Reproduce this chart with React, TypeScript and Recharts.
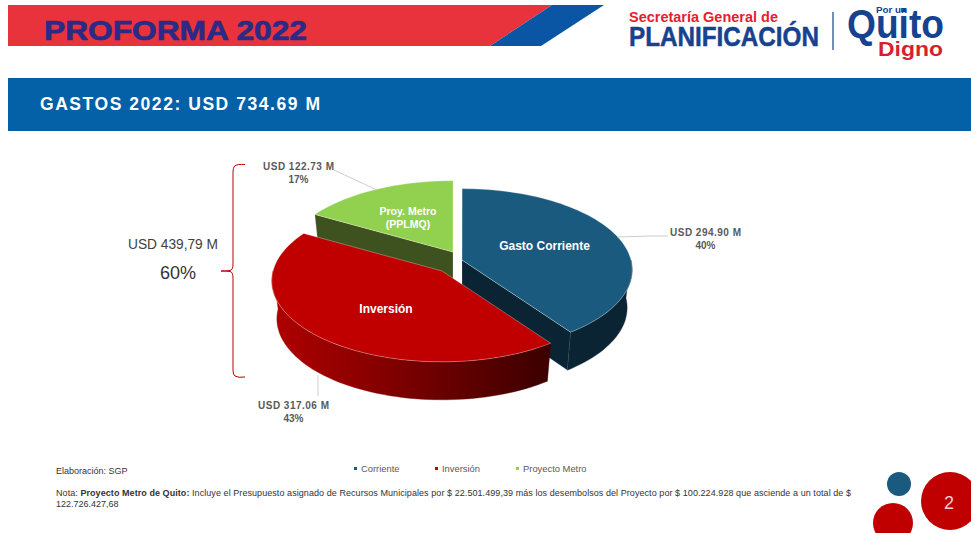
import { PieChart, Pie, Legend } from 'recharts';

// Slide data
const categories = ['Gasto Corriente', 'Inversión', 'Proy. Metro'];
const legendNames = ['Corriente', 'Inversión', 'Proyecto Metro'];
const amounts = [294.9, 317.06, 122.73];
const percents = ['40%', '43%', '17%'];
const colors = ['#1b5a7f', '#c00000', '#92d050'];

// the slices are painted back to front: metro, corriente, inversion
const paintOrder = [2, 0, 1];
const pieData = paintOrder.map(i => ({
  name: categories[i],
  value: amounts[i],
  percent: percents[i],
  fill: colors[i],
}));

const FONT = '"Liberation Sans", Arial, sans-serif';
const RX = 169;
const RY_RATIO = 0.473;
const TILT = 0.12;
const DEPTH = 38;
const BOTTOM_X = 0.97;

const EXPLODE: Record<string, [number, number]> = {
  'Gasto Corriente': [10, -1],
  'Inversión': [-10, 10],
  'Proy. Metro': [1, -9],
};
const WALL: Record<string, string> = {
  'Gasto Corriente': '#0a2433',
  'Inversión': 'url(#redWall)',
  'Proy. Metro': '#3e5220',
};

// theta is clockwise from 12 o'clock, with a little perspective on the disc
function rim(cx: number, cy: number, r: number, theta: number, scaleX = 1, dy = 0) {
  const t = (theta * Math.PI) / 180;
  const k = 1 / (1 + TILT * Math.cos(t));
  return [cx + r * Math.sin(t) * k * scaleX, cy + dy - r * RY_RATIO * Math.cos(t) * k];
}

function arc(cx: number, cy: number, r: number, from: number, to: number, scaleX = 1, dy = 0) {
  const pts: number[][] = [];
  const steps = Math.max(2, Math.ceil(Math.abs(to - from) / 2));
  for (let i = 0; i <= steps; i++) {
    pts.push(rim(cx, cy, r, from + ((to - from) * i) / steps, scaleX, dy));
  }
  return pts;
}

const toPath = (pts: number[][]) =>
  'M' + pts.map(p => `${p[0].toFixed(1)} ${p[1].toFixed(1)}`).join('L') + 'Z';

function Slice3D(props: any) {
  const { cx, cy, outerRadius, startAngle, endAngle, fill, name } = props;
  const label = name ?? props.payload?.name;
  const [ox, oy] = EXPLODE[label];
  const x = cx + ox;
  const y = cy + oy;
  let a = 90 - startAngle;
  let b = 90 - endAngle;
  while (a < 0) {
    a += 360;
    b += 360;
  }
  const wall = WALL[label];
  const apex = [x, y];
  const apexLow = [x, y + DEPTH];

  // outer wall is only seen on the front half of the disc
  const wFrom = Math.max(a, 90);
  const wTo = Math.min(b, 270);
  const face = [apex, ...arc(x, y, outerRadius, a, b)];

  const cutFaces: number[][][] = [];
  if (Math.cos(((b + 90) * Math.PI) / 180) < -0.01) {
    cutFaces.push([apex, rim(x, y, outerRadius, b), rim(x, y, outerRadius, b, BOTTOM_X, DEPTH), apexLow]);
  }
  if (Math.cos(((a - 90) * Math.PI) / 180) < -0.01) {
    cutFaces.push([apex, rim(x, y, outerRadius, a), rim(x, y, outerRadius, a, BOTTOM_X, DEPTH), apexLow]);
  }

  return (
    <g>
      <defs>
        <linearGradient id="redWall" gradientUnits="userSpaceOnUse" x1="271" y1="0" x2="548" y2="0">
          <stop offset="0" stopColor="#b00000" />
          <stop offset="0.35" stopColor="#8a0000" />
          <stop offset="1" stopColor="#3c0000" />
        </linearGradient>
      </defs>
      {cutFaces.map((f, i) => (
        <path key={i} d={toPath(f)} fill={wall} stroke="#ffffff" strokeOpacity={0.3} strokeWidth={0.6} />
      ))}
      {wTo > wFrom && (
        <path
          d={toPath([...arc(x, y, outerRadius, wFrom, wTo), ...arc(x, y, outerRadius, wTo, wFrom, BOTTOM_X, DEPTH)])}
          fill={wall}
          stroke={wall}
          strokeWidth={0.4}
        />
      )}
      <path d={toPath(face)} fill={fill} stroke="#ffffff" strokeOpacity={0.45} strokeWidth={0.7} />
    </g>
  );
}

const LABELS: Record<string, any> = {
  'Gasto Corriente': { x: 544.5, y: 247, size: 12, lines: ['Gasto Corriente'], vx: 705.5, vy: 233, leader: '617,237 651,236 668,236' },
  'Inversión': { x: 386, y: 310, size: 12, lines: ['Inversión'], vx: 293.5, vy: 406, leader: '318,375 318,396' },
  'Proy. Metro': { x: 408, y: 212, size: 10.5, lines: ['Proy. Metro', '(PPLMQ)'], vx: 298.5, vy: 167, leader: '334,170 377,190' },
};

function sliceLabel(props: any) {
  const name = props.name ?? props.payload?.name;
  const value = props.value ?? props.payload?.value;
  const pct = props.payload?.percent;
  const l = LABELS[name];
  return (
    <g key={name} fontFamily={FONT} fontWeight="bold" textAnchor="middle">
      <polyline points={l.leader} fill="none" stroke="#bfbfbf" strokeWidth={0.8} />
      {l.lines.map((t: string, i: number) => (
        <text key={t} x={l.x} y={l.y + i * 13} fontSize={l.size} fill="#ffffff" dominantBaseline="middle">
          {t}
        </text>
      ))}
      <text x={l.vx} y={l.vy} fontSize={10} fill="#595959" dominantBaseline="middle" textLength={71} lengthAdjust="spacing">
        {`USD ${value.toFixed(2)} M`}
      </text>
      <text x={l.vx} y={l.vy + 13} fontSize={10} fill="#595959" dominantBaseline="middle">
        {pct}
      </text>
    </g>
  );
}

function SlideLegend() {
  const left = [354, 435, 516];
  return (
    <div style={{ position: 'relative', height: 14, fontFamily: FONT, fontSize: 9.4, color: '#595959' }}>
      {legendNames.map((n, i) => (
        <span key={n} style={{ position: 'absolute', left: left[i], top: 0, whiteSpace: 'nowrap', lineHeight: '14px' }}>
          <span style={{ display: 'inline-block', width: 3, height: 3, background: colors[i], marginRight: 4, verticalAlign: 2 }} />
          {n}
        </span>
      ))}
    </div>
  );
}

function Background() {
  return (
    <svg width={971} height={533} style={{ position: 'absolute', left: 0, top: 0 }} fontFamily={FONT}>
      <polygon points="8,5 552,5 490,46 8,46" fill="#e8323c" />
      <polygon points="552,5 604,5 541,46 490,46" fill="#0a56a5" />
      <text x={44} y={40} fontSize={28} fontWeight="bold" fill="#2b2a85" stroke="#2b2a85" strokeWidth={0.7} textLength={263} lengthAdjust="spacingAndGlyphs">
        PROFORMA 2022
      </text>

      <text x={629} y={22} fontSize={15} fontWeight="bold" fill="#e5202e" textLength={149} lengthAdjust="spacingAndGlyphs">
        Secretaría General de
      </text>
      <text x={629} y={46} fontSize={27} fontWeight="bold" fill="#17428f" stroke="#17428f" strokeWidth={0.5} textLength={190} lengthAdjust="spacingAndGlyphs">
        PLANIFICACIÓN
      </text>
      <line x1={833} y1={12} x2={833} y2={50} stroke="#17428f" strokeWidth={1.2} />
      <text x={876} y={13} fontSize={9} fontWeight="bold" fill="#17428f" textLength={31} lengthAdjust="spacingAndGlyphs">
        Por un
      </text>
      <text x={847} y={38} fontSize={40} fontWeight="bold" fill="#17428f" textLength={97} lengthAdjust="spacingAndGlyphs">
        Quito
      </text>
      <text x={878} y={56} fontSize={21} fontWeight="bold" fill="#d81f30" textLength={65} lengthAdjust="spacingAndGlyphs">
        Digno
      </text>

      <rect x={8} y={78} width={963} height={53} fill="#0461a8" />
      <text x={40} y={110} fontSize={17.5} fontWeight="bold" fill="#ffffff" textLength={280} lengthAdjust="spacing">
        GASTOS 2022: USD 734.69 M
      </text>

      <path
        d="M245 164.5 Q237 164 234.5 166 Q233 168 233 172 V264 Q233 270 230 270.5 Q226 271 221 271 Q226 271 230 271.5 Q233 272 233 278 V370 Q233 375 235 376 Q238 378 245 377"
        fill="none"
        stroke="#c00000"
        strokeWidth={1}
      />
      <text x={128} y={249} fontSize={14} fill="#404040" textLength={90} lengthAdjust="spacingAndGlyphs">
        USD 439,79 M
      </text>
      <text x={160} y={279} fontSize={18} fill="#333333">
        60%
      </text>

      <text x={56} y={474} fontSize={9} fill="#333333">
        Elaboración: SGP
      </text>
      <text x={56} y={496} fontSize={9} fill="#333333" textLength={795} lengthAdjust="spacing">
        <tspan>Nota:  </tspan>
        <tspan fontWeight="bold">Proyecto Metro de Quito: </tspan>
        <tspan>Incluye el Presupuesto asignado de Recursos Municipales por $ 22.501.499,39 más los desembolsos del Proyecto por $ 100.224.928 que asciende a un total de $</tspan>
      </text>
      <text x={56} y={507} fontSize={9} fill="#333333">
        122.726.427,68
      </text>

      <circle cx={899} cy={484} r={12} fill="#1b5a7f" />
      <circle cx={893} cy={523} r={20} fill="#c00000" />
      <circle cx={950} cy={501} r={29} fill="#c00000" />
      <text x={949} y={509} fontSize={18} fill="#f2d0d0" textAnchor="middle">
        2
      </text>
    </svg>
  );
}

export default function App() {
  return (
    <div style={{ position: 'absolute', left: 0, top: 0, width: 971, height: 533, overflow: 'hidden', background: '#fff' }}>
      <Background />
      <div style={{ position: 'absolute', left: 0, top: 0 }}>
        <PieChart width={971} height={533} margin={{ top: 0, right: 0, bottom: 0, left: 0 }}>
          <Pie
            data={pieData}
            dataKey="value"
            nameKey="name"
            cx={452}
            cy={261}
            outerRadius={RX}
            startAngle={150.1}
            endAngle={-209.9}
            paddingAngle={0}
            stroke="none"
            shape={Slice3D}
            label={sliceLabel}
            labelLine={false}
            isAnimationActive={false}
          />
          <Legend
            content={() => <SlideLegend />}
            wrapperStyle={{ position: 'absolute', left: 0, top: 462, width: 971 }}
          />
        </PieChart>
      </div>
    </div>
  );
}
